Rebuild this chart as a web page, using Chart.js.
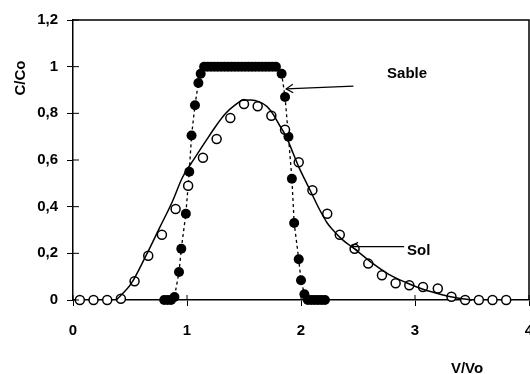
<!DOCTYPE html>
<html>
<head>
<meta charset="utf-8">
<script src="https://cdn.jsdelivr.net/npm/chart.js@4.4.1/dist/chart.umd.min.js"></script>
<style>
  html, body { margin: 0; padding: 0; background: #fff; }
  #wrap { width: 530px; height: 374px; }
</style>
</head>
<body>
<div id="wrap"><canvas id="courbe" width="530" height="374"></canvas></div>
<script>
// courbes de percée : sable (points pleins), sol (points vides) + courbe du modèle
const sableX = [0.80, 0.83, 0.86, 0.89, 0.93, 0.95, 0.99, 1.02, 1.04, 1.07, 1.10, 1.12,
    1.15, 1.18, 1.21, 1.24, 1.27, 1.30, 1.33, 1.36, 1.39, 1.42, 1.45, 1.48, 1.51, 1.54,
    1.57, 1.60, 1.63, 1.66, 1.69, 1.72, 1.75, 1.78,
    1.83, 1.86, 1.89, 1.92, 1.94, 1.98, 2.00, 2.03, 2.06, 2.09, 2.12, 2.15, 2.18, 2.21];
const sableY = [0, 0, 0, 0.013, 0.12, 0.22, 0.37, 0.55, 0.705, 0.835, 0.93, 0.97,
    1, 1, 1, 1, 1, 1, 1, 1, 1, 1, 1, 1, 1, 1,
    1, 1, 1, 1, 1, 1, 1, 1,
    0.97, 0.87, 0.70, 0.52, 0.33, 0.175, 0.085, 0.025, 0, 0, 0, 0, 0, 0];

const solX = [0.06, 0.18, 0.30, 0.42, 0.54, 0.66, 0.78, 0.90, 1.01, 1.14, 1.26, 1.38,
    1.50, 1.62, 1.74, 1.86, 1.98, 2.10, 2.23, 2.34, 2.47, 2.59, 2.71, 2.83, 2.95, 3.07,
    3.20, 3.32, 3.44, 3.56, 3.68, 3.80];
const solY = [0, 0, 0, 0.005, 0.08, 0.19, 0.28, 0.39, 0.49, 0.61, 0.69, 0.78,
    0.84, 0.83, 0.79, 0.73, 0.59, 0.47, 0.37, 0.28, 0.22, 0.156, 0.106, 0.072, 0.063, 0.056,
    0.049, 0.014, 0, 0, 0, 0];

const modeleX = [0.38, 0.51, 0.64, 0.76, 0.87, 0.96, 1.07, 1.17, 1.26, 1.34, 1.42, 1.49,
    1.56, 1.635, 1.70, 1.75, 1.81, 1.87, 1.93, 1.985, 2.05, 2.10, 2.16, 2.23, 2.28, 2.36,
    2.48, 2.62, 2.77, 2.92, 3.07, 3.22, 3.36, 3.50];
const modeleY = [0, 0.07, 0.19, 0.31, 0.42, 0.525, 0.61, 0.685, 0.75, 0.80, 0.835, 0.856,
    0.857, 0.849, 0.83, 0.80, 0.75, 0.70, 0.63, 0.565, 0.50, 0.45, 0.39, 0.33, 0.30, 0.26,
    0.215, 0.16, 0.11, 0.075, 0.046, 0.025, 0.01, 0];

const xTicks = ['0', '1', '2', '3', '4'];
const yTicks = ['0', '0,2', '0,4', '0,6', '0,8', '1', '1,2'];

const famille = '"Liberation Sans", Arial, sans-serif';
const police = 'bold 15px ' + famille;

function toPoints(xs, ys) {
    return xs.map((x, i) => ({ x: x, y: ys[i] }));
}

function fleche(c, x1, y1, x2, y2) {
    let ang = Math.atan2(y2 - y1, x2 - x1);
    c.beginPath();
    c.moveTo(x1, y1);
    c.lineTo(x2, y2);
    c.stroke();
    c.beginPath();
    c.moveTo(x2 - 8 * Math.cos(ang - 0.55), y2 - 8 * Math.sin(ang - 0.55));
    c.lineTo(x2, y2);
    c.lineTo(x2 - 8 * Math.cos(ang + 0.55), y2 - 8 * Math.sin(ang + 0.55));
    c.stroke();
}

// cadre, graduations intérieures, titres des axes et étiquettes fléchées
const habillage = {
    id: 'habillage',
    afterDraw(chart) {
        const c = chart.ctx, a = chart.chartArea;
        const sx = chart.scales.x, sy = chart.scales.y;
        c.save();
        c.strokeStyle = '#000';
        c.lineWidth = 1.5;
        c.beginPath();
        c.moveTo(a.left, a.top);
        c.lineTo(a.right, a.top);
        c.lineTo(a.right, a.bottom);
        c.stroke();

        c.lineWidth = 1;
        sx.ticks.forEach(t => {
            let p = sx.getPixelForValue(t.value);
            c.beginPath(); c.moveTo(p, a.bottom); c.lineTo(p, a.bottom - 5); c.stroke();
        });
        sy.ticks.forEach(t => {
            let p = sy.getPixelForValue(t.value);
            c.beginPath(); c.moveTo(a.left, p); c.lineTo(a.left + 6, p); c.stroke();
        });

        c.fillStyle = '#000';
        c.font = police;
        c.textBaseline = 'alphabetic';
        c.textAlign = 'center';
        c.fillText('V/Vo', 467, 373);
        c.save();
        c.translate(25, 78);
        c.rotate(-Math.PI / 2);
        c.fillText('C/Co', 0, 0);
        c.restore();

        c.textAlign = 'left';
        c.fillText('Sable', sx.getPixelForValue(2.755), sy.getPixelForValue(0.95));
        c.fillText('Sol', sx.getPixelForValue(2.93), sy.getPixelForValue(0.195));

        c.lineWidth = 1.2;
        fleche(c, sx.getPixelForValue(2.46), sy.getPixelForValue(0.917),
            sx.getPixelForValue(1.87), sy.getPixelForValue(0.905));
        fleche(c, sx.getPixelForValue(2.905), sy.getPixelForValue(0.229),
            sx.getPixelForValue(2.44), sy.getPixelForValue(0.229));
        c.restore();
    }
};

const axeCommun = {
    grid: { drawOnChartArea: false, drawTicks: true, tickLength: 6, color: '#000', lineWidth: 1 },
    border: { display: true, color: '#000', width: 1.5 },
};

const chart = new Chart(document.getElementById('courbe').getContext('2d'), {
    type: 'scatter',
    data: {
        datasets: [{
            label: 'modèle',
            data: toPoints(modeleX, modeleY),
            showLine: true,
            pointRadius: 0,
            borderColor: '#000',
            borderWidth: 1.5,
            cubicInterpolationMode: 'monotone',
            clip: false,
            order: 0,
        }, {
            label: 'Sol',
            data: toPoints(solX, solY),
            pointRadius: 4.5,
            pointBackgroundColor: '#fff',
            pointBorderColor: '#000',
            pointBorderWidth: 1.5,
            clip: false,
            order: 1,
        }, {
            label: 'Sable',
            data: toPoints(sableX, sableY),
            showLine: true,
            borderColor: '#000',
            borderWidth: 1.3,
            borderDash: [3, 3],
            pointRadius: 5,
            pointBackgroundColor: '#000',
            pointBorderColor: '#000',
            pointBorderWidth: 0,
            clip: false,
            order: 2,
        }]
    },
    options: {
        responsive: false,
        animation: false,
        layout: { autoPadding: false, padding: { top: 20, right: 1, left: 0, bottom: 0 } },
        scales: {
            x: Object.assign({}, axeCommun, {
                type: 'linear',
                min: 0,
                max: 4,
                ticks: {
                    stepSize: 1,
                    padding: 16,
                    color: '#000',
                    font: { family: famille, size: 15, weight: 'bold' },
                    callback: (v, i) => xTicks[i],
                },
                afterFit: function(scale) {
                    scale.height = 74;
                    scale.paddingLeft = 0;
                    scale.paddingRight = 0;
                },
            }),
            y: Object.assign({}, axeCommun, {
                type: 'linear',
                min: 0,
                max: 1.2,
                ticks: {
                    stepSize: 0.2,
                    padding: 9,
                    color: '#000',
                    font: { family: famille, size: 15, weight: 'bold' },
                    callback: (v, i) => yTicks[i],
                },
                afterFit: function(scale) {
                    scale.width = 73;
                    scale.paddingTop = 0;
                    scale.paddingBottom = 0;
                },
            }),
        },
        plugins: {
            legend: { display: false },
            tooltip: { enabled: false },
        }
    },
    plugins: [habillage],
});
</script>
</body>
</html>
